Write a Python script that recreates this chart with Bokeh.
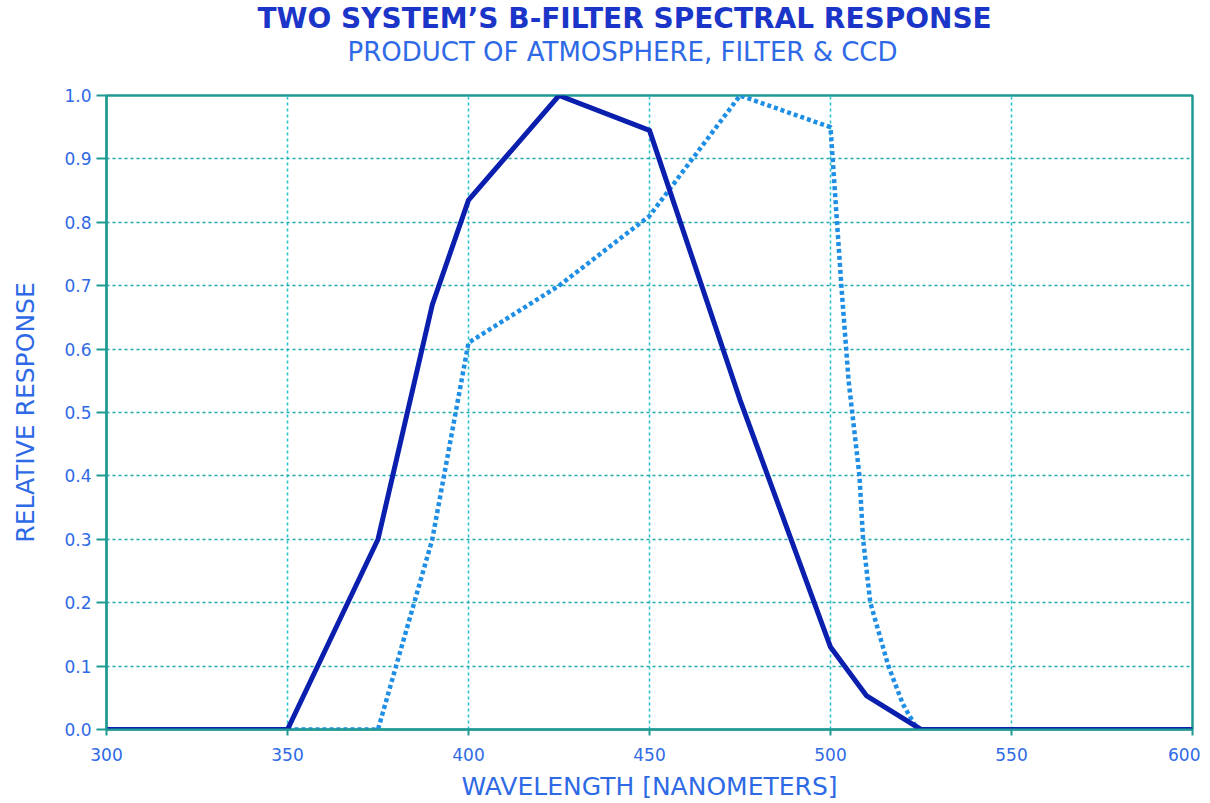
from bokeh.plotting import figure
from bokeh.models import Title, FixedTicker, NumeralTickFormatter, Range1d
from bokeh.embed import file_html
from bokeh.resources import INLINE

# data
wave_a = [300, 350, 375, 390, 400, 425, 450, 475, 500, 510, 525, 600]
resp_a = [0.0, 0.0, 0.30, 0.67, 0.835, 1.0, 0.945, 0.52, 0.13, 0.053, 0.0, 0.0]

wave_b = [350, 375, 390, 400, 425, 450, 475, 500, 503, 505, 508, 509, 511, 516, 520, 524]
resp_b = [0.0, 0.0, 0.30, 0.61, 0.70, 0.81, 1.0, 0.95, 0.70, 0.55, 0.40, 0.30, 0.20, 0.10, 0.04, 0.0]

x_ticks = [300, 350, 400, 450, 500, 550, 600]
y_ticks = [0.0, 0.1, 0.2, 0.3, 0.4, 0.5, 0.6, 0.7, 0.8, 0.9, 1.0]

title_text = "TWO SYSTEM\u2019S B-FILTER SPECTRAL RESPONSE"
subtitle_text = "PRODUCT OF ATMOSPHERE, FILTER & CCD"

FONT = "DejaVu Sans"
TEAL = "#1f9a92"
GRID_H = "#1fa8a8"
GRID_V = "#2cc3c9"
TXT = "#2f6ae6"

p = figure(width=1200, height=803, output_backend="svg", toolbar_location=None,
           x_range=Range1d(300, 600), y_range=Range1d(0, 1.0),
           min_border_left=106, min_border_right=8, min_border_top=95, min_border_bottom=74)

# stacked title panels (first added sits nearest to the frame)
spacer = Title(text=" ", text_font=FONT, text_font_size="12px", standoff=13)
sub = Title(text=subtitle_text, align="left", offset=241,
            text_font=FONT, text_font_size="26px", text_color=TXT,
            text_font_style="normal", standoff=0)
main = Title(text=title_text, align="left", offset=151,
             text_font=FONT, text_font_size="28px", text_color="#1b35c8",
             text_font_style="bold", standoff=-1)
p.add_layout(spacer, "above")
p.add_layout(sub, "above")
p.add_layout(main, "above")

p.outline_line_color = TEAL
p.outline_line_width = 2.5

for ax in (p.xaxis[0], p.yaxis[0]):
    ax.axis_line_color = TEAL
    ax.axis_line_width = 2
    ax.major_tick_line_color = TEAL
    ax.major_tick_line_width = 2
    ax.major_tick_in = 0
    ax.major_tick_out = 10
    ax.minor_tick_line_color = None
    ax.major_label_text_font = FONT
    ax.major_label_text_font_size = "17px"
    ax.major_label_text_color = TXT
    ax.axis_label_text_font = FONT
    ax.axis_label_text_font_size = "25px"
    ax.axis_label_text_color = TXT
    ax.axis_label_text_font_style = "normal"

p.xaxis.ticker = FixedTicker(ticks=x_ticks)
p.yaxis.ticker = FixedTicker(ticks=y_ticks)
p.yaxis.formatter = NumeralTickFormatter(format="0.0")
p.xaxis.major_tick_out = 6
p.xaxis.major_label_standoff = 12
p.yaxis.major_label_standoff = 5
p.xaxis.axis_label = "WAVELENGTH [NANOMETERS]"
p.yaxis.axis_label = "RELATIVE RESPONSE"
p.xaxis.axis_label_standoff = 8
p.yaxis.axis_label_standoff = 21

p.ygrid.grid_line_color = GRID_H
p.xgrid.grid_line_color = GRID_V
for g in (p.xgrid[0], p.ygrid[0]):
    g.grid_line_width = 1.6
    g.grid_line_dash = "3 3"

p.line(wave_b, resp_b, line_color="#1f8fe6", line_width=4.5, line_dash="4 3")
p.line(wave_a, resp_a, line_color="#0a1fae", line_width=5, line_join="round")

open("out.html", "w").write(file_html(p, INLINE))
